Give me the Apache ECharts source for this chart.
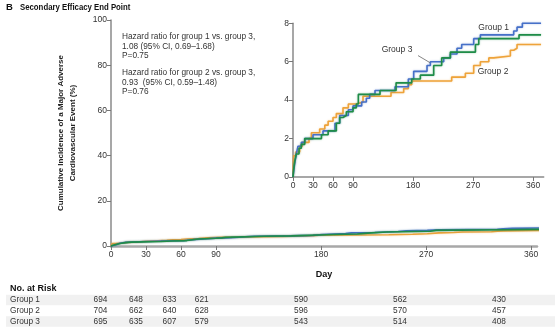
<!DOCTYPE html>
<html>
<head>
<meta charset="utf-8">
<script src="https://cdn.jsdelivr.net/npm/echarts@6/dist/echarts.min.js"></script>
<style>
  html, body { margin: 0; padding: 0; background: #fff; }
  #chart { width: 558px; height: 335px; }
</style>
</head>
<body>
<div id="chart"></div>
<script>
// Tick values
const dayTicks = [0, 30, 60, 90, 180, 270, 360];
const mainYTicks = [0, 20, 40, 60, 80, 100];
const insetYTicks = [0, 2, 4, 6, 8];

// Kaplan-Meier style cumulative incidence (%), [day, value]
const group1 = [[0,0],[1,0.3],[2.5,0.7],[5,1.2],[7.5,1.6],[12.5,1.8],[17.6,2.0],[30,2.2],[45,2.4],[63,2.8],[70,3.2],[83,3.5],[90,3.7],[103,3.9],[110,4.1],[115,4.3],[123,4.5],[153,4.7],[173,5.1],[181,5.5],[201,5.8],[206,6.0],[226,6.2],[236,6.4],[246,6.7],[253,6.9],[271,7.2],[281,7.4],[331,7.6],[336,7.8],[344,8.0],[372,8.0]];
const group2 = [[0,0],[0.5,0.7],[1,1.1],[4,1.3],[10,1.6],[14,1.8],[24,2.0],[27.6,2.3],[40,2.5],[47.7,2.7],[52.7,2.9],[60,3.1],[65,3.3],[75,3.6],[83,3.8],[95,3.9],[105,4.2],[147,4.4],[166,4.6],[173,4.8],[178,5.0],[238,5.2],[258.5,5.4],[271,5.8],[281,6.0],[293.7,6.2],[301,6.3],[326,6.6],[331,6.7],[336,6.9],[372,6.9]];
const group3 = [[0,0],[1,0.4],[2.5,0.8],[5,1.2],[9,1.5],[12.5,1.7],[17.6,2.0],[42.7,2.2],[52.7,2.4],[65,2.8],[70,3.1],[75,3.2],[80,3.4],[90,3.6],[95,3.8],[98,4.3],[130.5,4.5],[154.6,4.9],[178,5.1],[191,5.3],[211,5.8],[223,6.2],[236,6.5],[273.6,6.9],[278.6,7.2],[339,7.4],[372,7.4]];

// Number at risk
const riskGroups = ['Group 1', 'Group 2', 'Group 3'];
const riskG1 = [694, 648, 633, 621, 590, 562, 430];
const riskG2 = [704, 662, 640, 628, 596, 570, 457];
const riskG3 = [695, 635, 607, 579, 543, 514, 408];

const hazardText1 = ['Hazard ratio for group 1 vs. group 3,', '1.08 (95% CI, 0.69\u20131.68)', 'P=0.75'];
const hazardText2 = ['Hazard ratio for group 2 vs. group 3,', '0.93  (95% CI, 0.59\u20131.48)', 'P=0.76'];

const FONT = '"Liberation Sans Narrow", "Liberation Sans", "Open Sans", sans-serif';
const COLORS = { g1: '#4670c8', g2: '#eea33a', g3: '#1f8c48' };
const TXT = '#333';

const chart = echarts.init(document.getElementById('chart'), null, { renderer: 'canvas' });

function kmSeries(name, data, color, axisIdx, clip) {
  return {
    name, type: 'line', step: 'end', data, symbol: 'none',
    xAxisIndex: axisIdx, yAxisIndex: axisIdx, clip: clip,
    lineStyle: { color, width: 1.6, shadowColor: echarts.color.modifyAlpha(color, 0.45), shadowBlur: 2 },
    itemStyle: { color }, z: 3, animation: false
  };
}

const axisLabelStyle = { color: TXT, fontSize: 8.5, fontFamily: FONT, margin: 4 };

chart.setOption({
  animation: false,
  textStyle: { fontFamily: FONT },
  grid: [
    { left: 111, top: 20, width: 426, height: 226 },
    { left: 293, top: 23.3, width: 250.7, height: 153.7, show: true, backgroundColor: '#fff', borderWidth: 0, z: 5 }
  ],
  xAxis: [
    {
      gridIndex: 0, type: 'value', min: 0, max: 365,
      name: 'Day', nameLocation: 'middle', nameGap: 24,
      nameTextStyle: { color: '#111', fontWeight: 'bold', fontSize: 9, fontFamily: FONT },
      axisLine: { show: true, lineStyle: { color: '#a8a8a8', width: 2.5 } },
      axisTick: { show: true, customValues: dayTicks, length: 4, lineStyle: { color: '#777', width: 1 } },
      axisLabel: Object.assign({ customValues: dayTicks, margin: 6 }, axisLabelStyle),
      splitLine: { show: false }
    },
    {
      gridIndex: 1, type: 'value', min: 0, max: 376,
      axisLine: { show: true, lineStyle: { color: '#8a8a8a', width: 1.5 } },
      axisTick: { show: true, customValues: dayTicks, length: 4, lineStyle: { color: '#777', width: 1 } },
      axisLabel: Object.assign({ customValues: dayTicks, margin: 6 }, axisLabelStyle),
      splitLine: { show: false }, z: 6
    }
  ],
  yAxis: [
    {
      gridIndex: 0, type: 'value', min: 0, max: 100, interval: 20,
      name: 'Cumulative Incidence of a Major Adverse\nCardiovascular Event (%)',
      nameLocation: 'middle', nameGap: 32, nameRotate: 90,
      nameTextStyle: { color: '#222', fontWeight: 'bold', fontSize: 8, lineHeight: 12, fontFamily: FONT },
      axisLine: { show: true, lineStyle: { color: '#8a8a8a', width: 1.5 } },
      axisTick: { show: true, length: 4, lineStyle: { color: '#777', width: 1 } },
      axisLabel: axisLabelStyle,
      splitLine: { show: false }
    },
    {
      gridIndex: 1, type: 'value', min: 0, max: 8, interval: 2,
      axisLine: { show: true, lineStyle: { color: '#8a8a8a', width: 1.5 } },
      axisTick: { show: true, length: 4, lineStyle: { color: '#777', width: 1 } },
      axisLabel: axisLabelStyle,
      splitLine: { show: false }, z: 6
    }
  ],
  series: [
    kmSeries('Group 2', group2, COLORS.g2, 0, false),
    kmSeries('Group 1', group1, COLORS.g1, 0, false),
    kmSeries('Group 3', group3, COLORS.g3, 0, false),
    Object.assign(kmSeries('Group 2', group2, COLORS.g2, 1, false), { z: 7 }),
    Object.assign(kmSeries('Group 1', group1, COLORS.g1, 1, false), { z: 7 }),
    Object.assign(kmSeries('Group 3', group3, COLORS.g3, 1, false), { z: 7 })
  ]
});

// Annotations: title, hazard ratios, curve labels and the risk table
const px = (d, v) => chart.convertToPixel({ xAxisIndex: 1, yAxisIndex: 1 }, [d, v]);
const g = [];
const text = (x, y, t, opts, extra) => g.push(Object.assign({
  type: 'text', x, y, z: 20,
  style: Object.assign({ text: t, fill: TXT, font: '8.3px ' + FONT, textVerticalAlign: 'middle' }, opts || {})
}, extra || {}));

text(6, 7.5, 'B', { font: 'bold 9.5px ' + FONT, fill: '#111' });
text(20, 7.5, 'Secondary Efficacy End Point', { font: 'bold 9.5px ' + FONT, fill: '#111' }, { scaleX: 0.82 });

hazardText1.forEach((t, i) => text(122, 37 + i * 9.6, t));
hazardText2.forEach((t, i) => text(122, 73 + i * 9.3, t));

const l1 = px(301, 7.78), l3 = px(156, 6.63), l2 = px(300, 5.48);
text(l1[0], l1[1], 'Group 1', { textAlign: 'center', font: '8.5px ' + FONT });
text(l3[0], l3[1], 'Group 3', { textAlign: 'center', font: '8.5px ' + FONT });
text(l2[0], l2[1], 'Group 2', { textAlign: 'center', font: '8.5px ' + FONT });
const la = px(187.5, 6.32), lb = px(205.5, 5.95);
g.push({ type: 'line', z: 20, shape: { x1: la[0], y1: la[1], x2: lb[0], y2: lb[1] }, style: { stroke: '#666', lineWidth: 0.8 } });

// risk table
const colX = [100.5, 136, 169.5, 201.7, 301, 400, 499];
const rowY = [300, 310.8, 321.5];
[0, 2].forEach(r => g.push({ type: 'rect', z: 10, shape: { x: 6, y: rowY[r] - 5.3, width: 549, height: 10.6 }, style: { fill: '#f1f1f1' } }));
text(10, 289, 'No. at Risk', { font: 'bold 9px ' + FONT, fill: '#111' });
[riskG1, riskG2, riskG3].forEach((row, r) => {
  text(10, rowY[r], riskGroups[r]);
  row.forEach((n, c) => text(colX[c], rowY[r], String(n), { textAlign: 'center' }));
});

chart.setOption({ graphic: g });
</script>
</body>
</html>
